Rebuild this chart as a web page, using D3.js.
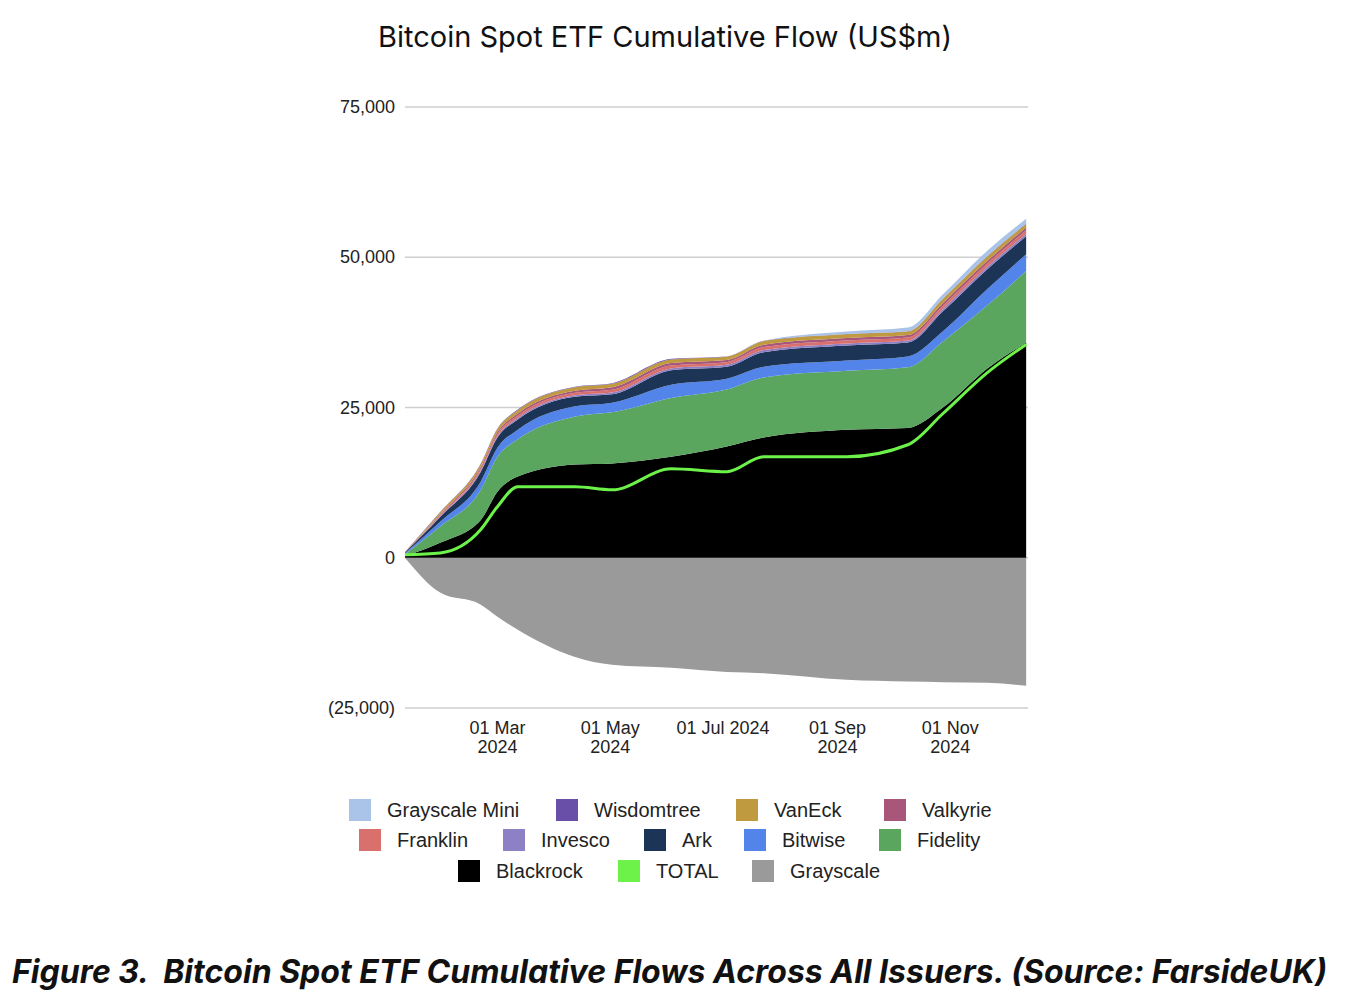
<!DOCTYPE html>
<html>
<head>
<meta charset="utf-8">
<script src="https://cdn.jsdelivr.net/npm/d3@7"></script>
<style>
  body { margin: 0; background: #fff; font-family: "Liberation Sans", Arial, sans-serif; }
</style>
</head>
<body>
<div id="chart"></div>
<script>
// sample dates (2024) and cumulative flows per issuer, in US$bn (thousands of US$m)
var dates = ["2024-01-11","2024-01-30","2024-02-21","2024-03-01","2024-03-12","2024-04-12","2024-05-02","2024-06-03","2024-07-03","2024-07-23","2024-09-06","2024-10-09","2024-10-28","2024-11-21","2024-12-12"]
var blackrock  = [0.3, 2.5, 6.3, 11.0, 13.5, 15.5, 15.7, 16.8, 18.5, 20.0, 21.3, 21.6, 25.0, 31.5, 35.8]
var fidelity   = [0.3, 2.7, 5.0, 5.8, 6.2, 8.0, 8.5, 9.8, 9.5, 10.0, 9.8, 10.1, 11.0, 10.5, 11.9]
var bitwise    = [0.2, 0.8, 1.4, 1.5, 1.6, 1.7, 1.6, 2.2, 1.8, 1.8, 1.7, 1.8, 1.7, 2.7, 2.8]
var ark        = [0.1, 0.8, 1.6, 1.7, 1.7, 1.6, 1.4, 2.4, 2.0, 2.4, 2.5, 2.3, 3.3, 3.3, 3.0]
var invesco    = [0.02, 0.1, 0.2, 0.22, 0.25, 0.25, 0.3, 0.3, 0.3, 0.35, 0.35, 0.35, 0.4, 0.4, 0.4]
var franklin   = [0.03, 0.2, 0.35, 0.38, 0.4, 0.4, 0.45, 0.5, 0.45, 0.5, 0.5, 0.5, 0.55, 0.55, 0.6]
var valkyrie   = [0.02, 0.15, 0.3, 0.32, 0.35, 0.35, 0.4, 0.4, 0.35, 0.4, 0.4, 0.4, 0.45, 0.45, 0.45]
var vaneck     = [0.02, 0.3, 0.45, 0.5, 0.55, 0.55, 0.6, 0.6, 0.55, 0.6, 0.65, 0.6, 0.7, 0.75, 0.6]
var wisdomtree = [0.01, 0.05, 0.1, 0.1, 0.1, 0.1, 0.1, 0.1, 0.05, 0.05, 0.05, 0.05, 0.05, 0.05, 0.05]
var gsMini     = [0, 0, 0, 0, 0, 0, 0, 0, 0, 0, 0.4, 0.6, 0.7, 0.9, 0.8]
var grayscale  = [0, -5.8, -7.8, -9.8, -12.0, -16.5, -17.8, -18.3, -19.0, -19.2, -20.3, -20.6, -20.7, -20.8, -21.3]
var total      = [0.5, 0.8, 4.7, 8.5, 11.8, 11.8, 11.3, 14.8, 14.3, 16.8, 16.8, 18.8, 24.0, 30.8, 35.5]

var seriesNames = ["Blackrock","Fidelity","Bitwise","Ark","Invesco","Franklin","Valkyrie","VanEck","Wisdomtree","Grayscale Mini"]
var seriesValues = [blackrock, fidelity, bitwise, ark, invesco, franklin, valkyrie, vaneck, wisdomtree, gsMini]
var colors = {
  "Grayscale Mini": "#a9c4e8", "Wisdomtree": "#6a4fa8", "VanEck": "#bf9a3f", "Valkyrie": "#a8567a",
  "Franklin": "#d9706c", "Invesco": "#8e80c4", "Ark": "#1c3456", "Bitwise": "#5284ea",
  "Fidelity": "#5aa65e", "Blackrock": "#000000", "TOTAL": "#6df24a", "Grayscale": "#9a9a9a"
}
var yTicks = [-25000, 0, 25000, 50000, 75000]
var xTicks = ["2024-03-01","2024-05-01","2024-07-01","2024-09-01","2024-11-01"]
var xTickLabels = [["01 Mar","2024"],["01 May","2024"],["01 Jul 2024"],["01 Sep","2024"],["01 Nov","2024"]]
var legendRows = [
  ["Grayscale Mini","Wisdomtree","VanEck","Valkyrie"],
  ["Franklin","Invesco","Ark","Bitwise","Fidelity"],
  ["Blackrock","TOTAL","Grayscale"]
]

var parse = d3.timeParse("%Y-%m-%d")
var W = 1348, H = 1004
var svg = d3.select("#chart").append("svg").attr("width", W).attr("height", H)

var x = d3.scaleTime().domain([parse("2024-01-11"), parse("2024-12-13")]).range([405, 1028])
var y = d3.scaleLinear().domain([-25000, 75000]).range([708, 107])

svg.append("text").attr("x", 665).attr("y", 47).attr("text-anchor", "middle")
  .style("font-size", "29px").style("font-family", "Inter, 'Noto Sans', sans-serif").attr("fill", "#111")
  .text("Bitcoin Spot ETF Cumulative Flow (US$m)")

// gridlines + y labels
svg.append("g").selectAll("line").data(yTicks).join("line")
  .attr("x1", 405).attr("x2", 1028).attr("y1", d => y(d)).attr("y2", d => y(d))
  .attr("stroke", "#cfcfcf").attr("stroke-width", 1.5)
svg.append("g").selectAll("text").data(yTicks).join("text")
  .attr("x", 395).attr("y", d => y(d) + 6).attr("text-anchor", "end")
  .style("font-size", "18px").attr("fill", "#222")
  .text(d => d < 0 ? "(" + d3.format(",")(-d) + ")" : d3.format(",")(d))

var rows = dates.map(function(d, i) {
  var r = { date: parse(d) }
  seriesNames.forEach(function(n, j) { r[n] = seriesValues[j][i] * 1000 })
  return r
})
var stack = d3.stack().keys(seriesNames)(rows)
var area = d3.area().x(d => x(d.data.date)).y0(d => y(d[0])).y1(d => y(d[1]))

svg.append("path").datum(grayscale)
  .attr("fill", colors["Grayscale"])
  .attr("d", d3.area().x((d, i) => x(parse(dates[i]))).y0(y(0)).y1(d => y(d * 1000)).curve(d3.curveMonotoneX))

svg.append("g").selectAll("path").data(stack).join("path")
  .attr("fill", d => colors[d.key])
  .attr("d", area.curve(d3.curveMonotoneX))

svg.append("path").datum(total)
  .attr("fill", "none").attr("stroke", colors["TOTAL"]).attr("stroke-width", 3)
  .attr("d", d3.line().x((d, i) => x(parse(dates[i]))).y(d => y(d * 1000)).curve(d3.curveMonotoneX))

// x labels
var xl = svg.append("g").selectAll("text").data(xTicks).join("text")
  .attr("x", d => x(parse(d))).attr("y", 734).attr("text-anchor", "middle")
  .style("font-size", "18px").attr("fill", "#222")
xl.each(function(d, i) {
  var t = d3.select(this)
  xTickLabels[i].forEach(function(s, k) {
    t.append("tspan").attr("x", x(parse(d))).attr("dy", k ? 19 : 0).text(s)
  })
})

// legend
var legendX = [[349, 556, 736, 884], [359, 503, 644, 744, 879], [458, 618, 752]]
var legendY = [810, 840, 871]
legendRows.forEach(function(row, r) {
  var g = svg.append("g")
  g.selectAll("rect").data(row).join("rect")
    .attr("x", (d, i) => legendX[r][i]).attr("y", legendY[r] - 11)
    .attr("width", 22).attr("height", 22).attr("fill", d => colors[d])
  g.selectAll("text").data(row).join("text")
    .attr("x", (d, i) => legendX[r][i] + 38).attr("y", legendY[r] + 7)
    .style("font-size", "20px").attr("fill", "#222").text(d => d)
})

svg.append("text").attr("x", 12).attr("y", 983)
  .style("font-size", "32px").style("font-weight", "bold").style("font-style", "italic")
  .style("white-space", "pre")
  .style("font-family", "Inter, 'Noto Sans', sans-serif").attr("fill", "#111")
  .text("Figure 3.  Bitcoin Spot ETF Cumulative Flows Across All Issuers. (Source: FarsideUK)")
</script>
</body>
</html>
